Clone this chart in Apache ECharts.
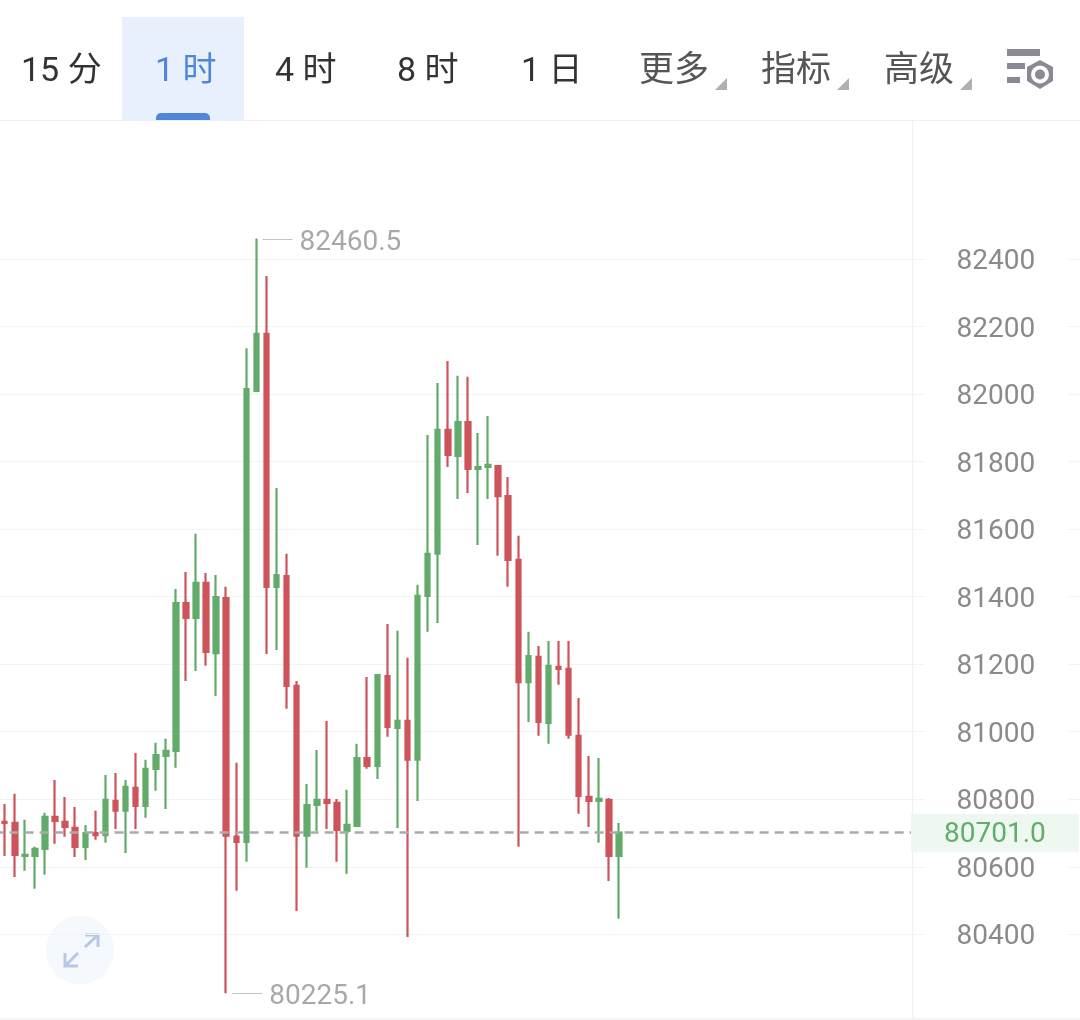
<!DOCTYPE html>
<html>
<head>
<meta charset="utf-8">
<style>html,body{margin:0;padding:0;background:#fff}#c{width:1080px;height:1020px}</style>
<script src="https://cdn.jsdelivr.net/npm/echarts@6/dist/echarts.min.js"></script>
</head>
<body>
<div id="c"></div>
<script>
const opens  = [80733,80730,80632,80632,80653,80748,80733,80715,80659,80700,80694,80795,80766,80834,80780,80890,80928,80943,81381,81337,81441,81233,81396,80689,80674,82009,82178,81429,81461,81136,80692,80783,80798,80789,80706,80721,80922,80899,81165,81011,81032,80917,81402,81527,81894,81817,81917,81778,81784,81787,81698,81509,81147,81222,81026,81192,81186,80988,80807,80795,80798,80632];
const closes = [80730,80635,80635,80653,80748,80736,80718,80659,80700,80694,80798,80766,80837,80780,80890,80931,80943,81381,81337,81441,81236,81399,80692,80674,82015,82178,81429,81464,81136,80692,80783,80798,80789,80709,80724,80922,80899,81168,81014,81032,80917,81402,81527,81894,81820,81917,81778,81784,81790,81698,81509,81147,81224,81029,81195,81186,80991,80810,80795,80801,80632,80701];
const lows   = [80632,80570,80588,80535,80576,80668,80689,80629,80620,80680,80671,80712,80641,80712,80745,80825,80771,80893,81150,81180,81195,81106,80225.1,80529,80615,82009,81230,81242,81068,80469,80597,80706,80712,80615,80579,80718,80890,80860,80985,80715,80392,80795,81296,81322,81784,81689,81707,81553,81689,81521,81429,80659,81029,80988,80964,81139,80979,80757,80718,80671,80558,80446];
const highs  = [80786,80816,80739,80659,80760,80857,80807,80777,80724,80766,80872,80878,80857,80937,80917,80967,80979,81423,81473,81586,81470,81464,81429,80908,82136,82460.5,82350,81722,81527,81150,80845,80946,81032,80801,80828,80964,81162,81171,81319,81299,81219,81435,81879,82033,82098,82054,82051,81885,81935,81790,81754,81580,81296,81254,81269,81269,81269,81100,80928,80922,80804,80730];
const lastPrice = 80701.0;
const tabs = ['15 分','1 时','4 时','8 时','1 日'];
const tools = ['更多','指标','高级'];

const GREEN='#62ab6a', RED='#cd545a';
const slotCount=109;
const categories=Array.from({length:slotCount},(_,i)=>String(i));
const candles=[['-','-','-','-']].concat(opens.map((o,i)=>[o,closes[i],lows[i],highs[i]]));
const hiIdx=highs.indexOf(Math.max(...highs))+1, loIdx=lows.indexOf(Math.min(...lows))+1;

const F='Roboto, "Noto Sans CJK SC"';
const tabX=[21,155,275,397,521];
const g=[];
g.push({type:'rect',shape:{x:122,y:17,width:122,height:103},style:{fill:'#e7f0fc'}});
g.push({type:'rect',shape:{x:156,y:113,width:54,height:7,r:[5,5,0,0]},style:{fill:'#4f86d9'}});
tabs.forEach((t,i)=>g.push({type:'text',style:{x:tabX[i],y:72,text:t,fontFamily:F,fontSize:34,verticalAlign:'middle',fill:i===1?'#4f86d9':'#333'}}));
[639,761,884].forEach((x,i)=>{
  g.push({type:'text',style:{x,y:72,text:tools[i],fontFamily:F,fontSize:35,verticalAlign:'middle',fill:'#555'}});
  const e=x+88;
  g.push({type:'polygon',shape:{points:[[e-12,90],[e,90],[e,78]]},style:{fill:'#b0b0b0'}});
});
g.push({type:'rect',shape:{x:1007,y:49,width:33,height:7},style:{fill:'#8a8a95'}});
g.push({type:'rect',shape:{x:1007,y:63,width:18,height:6},style:{fill:'#8a8a95'}});
g.push({type:'rect',shape:{x:1007,y:77,width:13,height:6},style:{fill:'#8a8a95'}});
g.push({type:'polygon',shape:{points:[[1040,60],[1053,67],[1053,81],[1040,89],[1027,81],[1027,67]]},style:{fill:'#8a8a95'}});
g.push({type:'circle',shape:{cx:1040,cy:74.5,r:9},style:{fill:'#fff'}});
g.push({type:'circle',shape:{cx:1040,cy:74.5,r:5},style:{fill:'#8a8a95'}});
g.push({type:'rect',shape:{x:0,y:120,width:1080,height:1},style:{fill:'#f0f0f0'}});
g.push({type:'rect',shape:{x:912,y:120,width:1,height:900},style:{fill:'#f0f0f0'}});
g.push({type:'rect',shape:{x:0,y:1018,width:1080,height:2},style:{fill:'#f3f3f3'}});
g.push({type:'circle',shape:{cx:80,cy:950,r:34},style:{fill:'#f5f8fd'}});
const ar={stroke:'#b7c7e4',lineWidth:3,fill:null};
g.push({type:'polyline',shape:{points:[[85,935],[98,935],[98,947]]},style:ar});
g.push({type:'line',shape:{x1:98,y1:935,x2:85,y2:947},style:ar});
g.push({type:'polyline',shape:{points:[[65,953],[65,966],[78,966]]},style:ar});
g.push({type:'line',shape:{x1:65,y1:966,x2:78,y2:953},style:ar});

const chart=echarts.init(document.getElementById('c'),null,{renderer:'canvas'});
chart.setOption({
  animation:false,
  backgroundColor:'#fff',
  grid:{left:-10.4,top:259,width:slotCount*10.07,height:675.3,containLabel:false,outerBoundsMode:'none'},
  xAxis:{type:'category',data:categories,show:false,boundaryGap:true},
  yAxis:{type:'value',position:'right',min:80400,max:82400,interval:200,scale:true,
    axisLine:{show:false},axisTick:{show:false},
    splitLine:{show:true,lineStyle:{color:'#f2f3f4',width:1}},
    axisLabel:{inside:true,margin:19,
      formatter:v=>'{a|'+v+'}',
      rich:{a:{fontFamily:'Roboto',fontSize:28,color:'#8a8a8a',padding:[6,0,0,0]}},
      backgroundColor:'#fff',padding:[0,33,0,32],showMinLabel:true,showMaxLabel:true}},
  graphic:{elements:g},
  series:[{
    type:'candlestick',data:candles,clip:false,barWidth:5,silent:true,
    itemStyle:{color:GREEN,color0:RED,borderColor:GREEN,borderColor0:RED,borderWidth:2.2},
    markLine:{silent:true,animation:false,symbol:'none',precision:1,
      lineStyle:{color:'#aaaaaa',width:2.5,type:[9,6]},
      data:[[{coord:[0,lastPrice],
          label:{show:true,position:'end',distance:0,formatter:'{p|'+lastPrice.toFixed(1)+'}',
            rich:{p:{fontFamily:'Roboto',fontSize:28,color:'#5fae6b',padding:[4,0,0,0]}},
            backgroundColor:'#eff8f0',padding:[3,33,3,33]}},
        {coord:[91,lastPrice]}]]}
  }]
});
// Extreme annotations placed through the chart's own scales
function extreme(idx,val){
  const p=chart.convertToPixel({seriesIndex:0},[idx,val]);
  return [
    {type:'rect',shape:{x:p[0]+6,y:Math.round(p[1]),width:30,height:1},style:{fill:'#c4c4c4'}},
    {type:'text',style:{x:p[0]+43,y:p[1]+4,text:val.toFixed(1),fontFamily:'Roboto',fontSize:28,verticalAlign:'middle',fill:'#a8a8a8'}}
  ];
}
chart.setOption({graphic:{elements:g.concat(extreme(hiIdx,highs[hiIdx-1]),extreme(loIdx,lows[loIdx-1]))}});
</script>
</body>
</html>
